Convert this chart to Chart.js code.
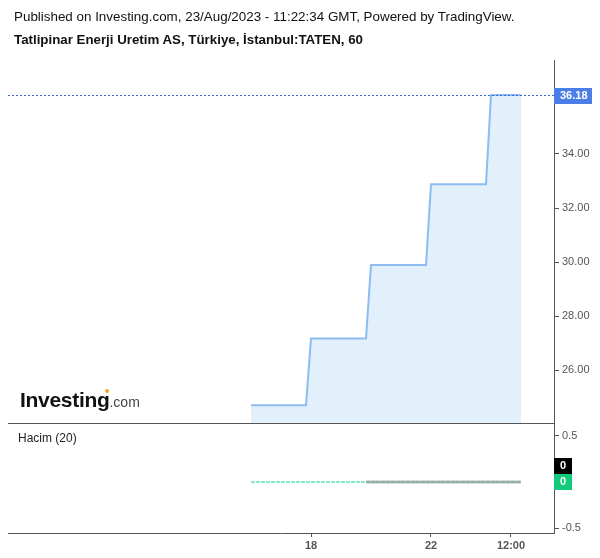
<!DOCTYPE html>
<html>
<head>
<meta charset="utf-8">
<script src="https://cdn.jsdelivr.net/npm/chart.js@4.4.0/dist/chart.umd.min.js"></script>
<style>
  html, body { margin: 0; padding: 0; background: #fff; }
  #wrap { position: relative; width: 600px; height: 558px; font-family: 'Liberation Sans', Arial, sans-serif; }
  #chart { position: absolute; left: 0; top: 0; }
  .txt { position: absolute; white-space: nowrap; line-height: 1; }
  #pub { left: 14px; top: 10px; font-size: 13.4px; color: #111; }
  #ttl { left: 14px; top: 33px; font-size: 13.3px; font-weight: bold; color: #111; }
  #logo { left: 20px; top: 389px; font-size: 21px; font-weight: bold; color: #111; letter-spacing: -0.3px; }
  #logo span { font-size: 14px; font-weight: normal; color: #444; letter-spacing: 0; }
  #dot { position: absolute; left: 105px; top: 389px; width: 4px; height: 4px; border-radius: 2px; background: #f5a623; }
  #hacim { left: 18px; top: 432px; font-size: 12px; color: #222; }
</style>
</head>
<body>
<div id="wrap">
  <canvas id="chart" width="600" height="558"></canvas>
  <div class="txt" id="pub">Published on Investing.com, 23/Aug/2023 - 11:22:34 GMT, Powered by TradingView.</div>
  <div class="txt" id="ttl">Tatlipinar Enerji Uretim AS, Türkiye, İstanbul:TATEN, 60</div>
  <div class="txt" id="logo">Investing<span>.com</span></div>
  <div id="dot"></div>
  <div class="txt" id="hacim">Hacim (20)</div>
</div>
<script>
// hourly closes, 17 Aug .. 23 Aug (limit-up every session)
const closePrices = [
  24.70, 24.70, 24.70, 24.70, 24.70, 24.70, 24.70, 24.70, 24.70, 24.70, 24.70, 24.70,
  27.17, 27.17, 27.17, 27.17, 27.17, 27.17, 27.17, 27.17, 27.17, 27.17, 27.17, 27.17,
  29.89, 29.89, 29.89, 29.89, 29.89, 29.89, 29.89, 29.89, 29.89, 29.89, 29.89, 29.89,
  32.88, 32.88, 32.88, 32.88, 32.88, 32.88, 32.88, 32.88, 32.88, 32.88, 32.88, 32.88,
  36.18, 36.18, 36.18, 36.18, 36.18, 36.18, 36.18
];
const volumes = [
  0, 0, 0, 0, 0, 0, 0, 0, 0, 0, 0, 0,
  0, 0, 0, 0, 0, 0, 0, 0, 0, 0, 0, 0,
  0, 0, 0, 0, 0, 0, 0, 0, 0, 0, 0, 0,
  0, 0, 0, 0, 0, 0, 0, 0, 0, 0, 0, 0,
  0, 0, 0, 0, 0, 0, 0
];
const volumeMA = [
  null, null, null, null, null, null, null, null, null, null, null, null,
  null, null, null, null, null, null, null, null, null, null, null, 0,
  0, 0, 0, 0, 0, 0, 0, 0, 0, 0, 0, 0,
  0, 0, 0, 0, 0, 0, 0, 0, 0, 0, 0, 0,
  0, 0, 0, 0, 0, 0, 0
];
const xTickIndex = [12, 36, 52];
const xTickLabels = ['18', '22', '12:00'];
const priceTicks = [26, 28, 30, 32, 34];
const volumeTicks = [0.5, -0.5];
const lastPrice = 36.18;
const lastVolume = 0;
const lastVolumeMA = 0;

const toPoints = arr => arr.map((v, i) => ({ x: i, y: v }));
const axisGrey = '#555';

const overlay = {
  id: 'overlay',
  afterDraw(chart) {
    const { ctx, chartArea, scales } = chart;
    const y = scales.y, yv = scales.yv;
    ctx.save();
    // pane separator
    ctx.strokeStyle = axisGrey;
    ctx.lineWidth = 1;
    ctx.beginPath();
    ctx.moveTo(chartArea.left, Math.round(yv.top) + 0.5);
    ctx.lineTo(chartArea.right, Math.round(yv.top) + 0.5);
    ctx.stroke();
    // last price line + label
    const py = Math.round(y.getPixelForValue(lastPrice)) + 0.5;
    ctx.strokeStyle = '#3f66d8';
    ctx.setLineDash([2, 2]);
    ctx.beginPath();
    ctx.moveTo(chartArea.left, py);
    ctx.lineTo(chartArea.right, py);
    ctx.stroke();
    ctx.setLineDash([]);
    ctx.fillStyle = '#4c7ee8';
    ctx.fillRect(chartArea.right, py - 7.5, 38, 16);
    ctx.fillStyle = '#fff';
    ctx.font = 'bold 11px "Liberation Sans", Arial, sans-serif';
    ctx.textBaseline = 'middle';
    ctx.fillText(lastPrice.toFixed(2), chartArea.right + 6, py + 0.5);
    // volume labels
    const vy = Math.round(yv.getPixelForValue(lastVolume));
    ctx.fillStyle = '#000';
    ctx.fillRect(chartArea.right, vy - 24, 18, 16);
    ctx.fillStyle = '#12c97c';
    ctx.fillRect(chartArea.right, vy - 8, 18, 16);
    ctx.fillStyle = '#fff';
    ctx.fillText(String(lastVolumeMA), chartArea.right + 6, vy - 16);
    ctx.fillText(String(lastVolume), chartArea.right + 6, vy);
    ctx.restore();
  }
};

const ctx = document.getElementById('chart').getContext('2d');
new Chart(ctx, {
  type: 'line',
  data: {
    datasets: [
      {
        label: 'TATEN',
        data: toPoints(closePrices),
        yAxisID: 'y',
        borderColor: '#8dbdf0',
        borderWidth: 2,
        backgroundColor: '#e1f0fa',
        fill: 'start',
        pointRadius: 0,
        tension: 0,
        order: 3
      },
      {
        label: 'Hacim',
        data: toPoints(volumes),
        yAxisID: 'yv',
        borderColor: 'rgba(40, 215, 165, 0.75)',
        borderWidth: 1.5,
        borderDash: [4, 1],
        pointRadius: 0,
        fill: false,
        order: 2
      },
      {
        label: 'MA 20',
        data: toPoints(volumeMA),
        yAxisID: 'yv',
        borderColor: 'rgba(140, 140, 140, 0.6)',
        borderWidth: 3,
        pointRadius: 0,
        fill: false,
        order: 1
      }
    ]
  },
  options: {
    responsive: false,
    animation: false,
    layout: { padding: { top: 60, left: 8, right: 0, bottom: 0 } },
    plugins: {
      legend: { display: false },
      tooltip: { enabled: false },
      title: { display: false }
    },
    scales: {
      x: {
        type: 'linear',
        min: -48.6,
        max: 60.6,
        grid: { drawOnChartArea: false, drawTicks: true, tickLength: 4, color: axisGrey },
        border: { color: axisGrey },
        ticks: {
          autoSkip: false,
          maxRotation: 0,
          padding: 2,
          color: axisGrey,
          font: { family: '"Liberation Sans", Arial, sans-serif', size: 11, weight: 'bold' },
          callback: v => xTickLabels[xTickIndex.indexOf(v)]
        },
        afterBuildTicks: s => { s.ticks = xTickIndex.map(v => ({ value: v })); },
        afterFit: s => { s.height = 25; }
      },
      y: {
        position: 'right',
        stack: 'panes',
        stackWeight: 363,
        min: 24.04,
        max: 37.48,
        grid: { drawOnChartArea: false, drawTicks: true, tickLength: 5, color: axisGrey },
        border: { color: axisGrey },
        ticks: {
          padding: 3,
          color: axisGrey,
          font: { family: '"Liberation Sans", Arial, sans-serif', size: 11 },
          callback: v => v.toFixed(2)
        },
        afterBuildTicks: s => { s.ticks = priceTicks.map(v => ({ value: v })); },
        afterFit: s => { s.width = 46; }
      },
      yv: {
        position: 'right',
        stack: 'panes',
        stackWeight: 110,
        min: -0.554,
        max: 0.641,
        grid: { drawOnChartArea: false, drawTicks: true, tickLength: 5, color: axisGrey },
        border: { color: axisGrey },
        ticks: {
          padding: 3,
          color: axisGrey,
          font: { family: '"Liberation Sans", Arial, sans-serif', size: 11 },
          callback: v => String(v)
        },
        afterBuildTicks: s => { s.ticks = volumeTicks.map(v => ({ value: v })); },
        afterFit: s => { s.width = 46; }
      }
    }
  },
  plugins: [overlay]
});
</script>
</body>
</html>
